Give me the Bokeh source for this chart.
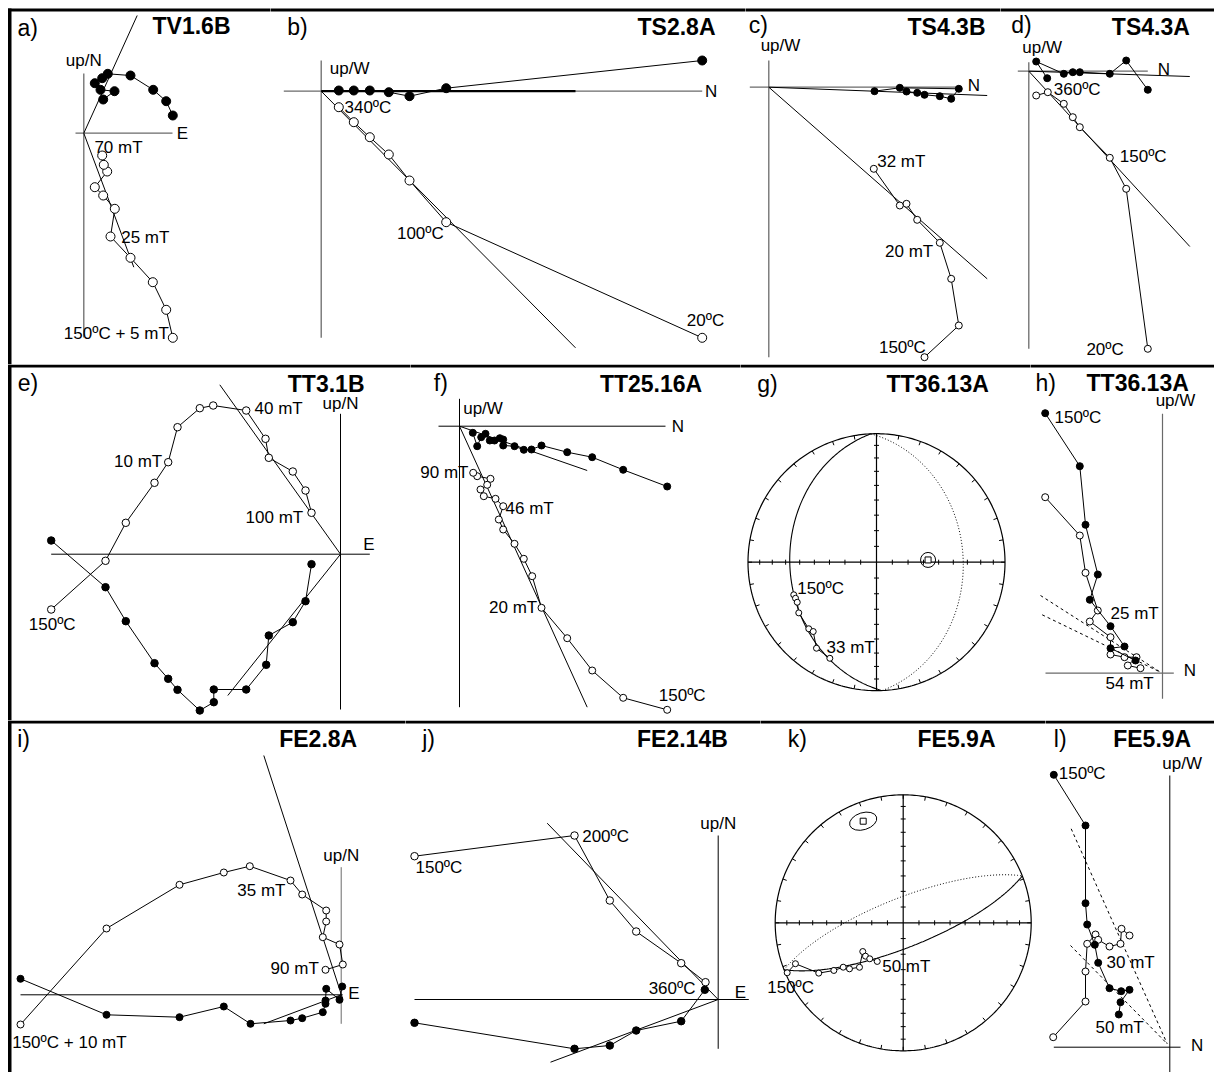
import numpy as np
from bokeh.plotting import figure
from bokeh.layouts import column, row
from bokeh.models import Range1d, BoxAnnotation
from bokeh.core.properties import value
from bokeh.embed import file_html
from bokeh.resources import INLINE

FONT = "Liberation Sans"
GRAY = "#6a6a6a"

# ---------------- data (component values, arbitrary units; x = horizontal axis, y = vertical axis) -------------
# a) TV1.6B
A_FILLED = [(89, 17.7), (82.4, 32), (69.4, 43.4), (46.7, 57.7), (24, 59.4), (18.4, 55), (11, 50),
            (16.7, 43.4), (30.7, 42), (19.4, 33.7)]
A_OPEN = [(89, -204.6), (82.4, -176.6), (69, -149), (46.7, -124.6), (26.7, -103.3), (31, -75.6),
          (19.4, -62.3), (11, -54), (23.4, -38.3), (20, -31.6), (18.4, -22.3)]
A_FIT_FILLED = [(0, 0), (53.4, 117.7)]
A_FIT_OPEN = [(0, 0), (50.0, -134.0)]

# b) TS2.8A
B_FILLED = [(381, 30.7), (125, 3), (88.3, -5), (67.6, -1), (48.6, 0.7), (32.6, 0.7), (17.6, 0.7)]
B_OPEN = [(381, -246.6), (125, -131), (88.3, -89.3), (67.6, -63.3), (48.6, -46), (32.6, -31), (17.6, -16)]
B_FIT_FILLED = [(0, 0), (254.3, 0)]
B_FIT_OPEN = [(0, 0), (254.3, -256.6)]

# c) TS4.3B
C_FILLED = [(105.7, -4), (131, -0.6), (190, -1.6), (182.4, -11.6), (171, -9), (155.7, -7.6),
            (148.4, -5.6), (137.7, -4.3)]
C_OPEN = [(155.7, -270), (190, -238.3), (182.4, -191.6), (171, -155.6), (148.4, -132.6),
          (137.7, -116.6), (131, -118.3), (105, -81.6)]
C_FIT_FILLED = [(0, 0), (218.4, -8.3)]
C_FIT_OPEN = [(0, 0), (218.4, -191.6)]

# d) TS4.3A
D_FILLED = [(119, -18.6), (97.4, 10.7), (81, -2.6), (51, -1), (44, -1), (35, -2.6), (7.4, 9.7), (18.4, -7)]
D_OPEN = [(119, -277.6), (97.4, -117.6), (81, -86.6), (51, -56), (44, -46), (35, -32.6), (19, -21), (7.4, -24.3)]
D_FIT_FILLED = [(0, 0), (161, -5.3)]
D_FIT_OPEN = [(0, 0), (161, -175.3)]

# e) TT3.1B
E_OPEN = [(-289.3, -55.3), (-235, -6.6), (-214.7, 31.4), (-186, 71.4), (-172.3, 92), (-163, 127),
          (-140.7, 146), (-127.3, 148.7), (-94.3, 143.7), (-75, 115.4), (-71.7, 96.4), (-47.7, 82.7),
          (-35, 63.7), (-29, 41.4)]
E_FILLED = [(-289.3, 13.7), (-235, -33), (-214.7, -67), (-186, -109), (-172.3, -124.6), (-163, -135.6),
            (-140.7, -156.3), (-126.7, -148), (-126.7, -135.3), (-94.3, -135.3), (-74.3, -110.6),
            (-71.7, -81.3), (-47.7, -68), (-35, -47), (-29, -10)]
E_FIT_OPEN = [(0, 0), (-120.7, 169.4)]
E_FIT_FILLED = [(0, 0), (-112.7, -141.3)]

# f) TT25.16A
F_FILLED = [(207.7, -60.3), (163.7, -43.6), (132.7, -31), (107.7, -26), (82, -19.3), (72, -23.3),
            (64.3, -23.6), (55, -20), (43.7, -19.3), (43.7, -13.3), (40.3, -12), (35, -14.3),
            (30.3, -14.3), (26, -7.6), (21.7, -11), (17.7, -20), (13.3, -6.6)]
F_OPEN = [(207.7, -283.6), (163.7, -271.6), (132.7, -244.3), (107.7, -212), (82, -181.6), (72.7, -150),
          (64.3, -132.6), (55, -117.6), (43.7, -103.3), (39.3, -93.3), (43.7, -80), (36, -72.6),
          (24.3, -70), (21, -63.3), (27.7, -58.6), (31, -52.6), (17.7, -50), (13.7, -46.6)]
F_FIT_FILLED = [(0, 0), (127.7, -44.3)]
F_FIT_OPEN = [(0, 0), (127.7, -281)]

# g) TT36.13A  (declination, inclination)
G_DIRS = [(248.5, 31.4), (246.0, 31.6), (243.2, 31.5), (236.9, 28.6), (225.5, 27.0), (222.4, 27.8),
          (214.9, 19.5), (205.9, 18.0)]
G_POLE = (87.5, 57.0)

# h) TT36.13A
H_FILLED = [(-117.3, 260), (-82.7, 207), (-77, 148.4), (-64.7, 98.7), (-72.7, 73.4), (-52, 47),
            (-38, 26.7), (-52, 25), (-27, 12.7)]
H_OPEN = [(-117.3, 176), (-82.7, 137.7), (-77, 100.4), (-64.7, 62.7), (-72.7, 51.7), (-52, 36),
          (-52, 18.7), (-38, 16), (-26, 16), (-34.7, 7.7), (-22, 5)]
H_FIT_1 = [(-122, 77.7), (-2, 1)]
H_FIT_2 = [(-120.3, 58.4), (-2, 1)]

# i) FE2.8A
I_OPEN = [(-320.7, -29.7), (-234.7, 66.3), (-161.7, 110), (-117.4, 122.3), (-91.4, 128.6),
          (-50.7, 114.3), (-39, 100.3), (-15, 84.3), (-15, 73.3), (-18.4, 57.6), (-1.7, 50.3),
          (1.6, 30.3), (-15.7, 25)]
I_FILLED = [(-320.7, 16), (-234.7, -20), (-161.7, -22.4), (-117.4, -11.7), (-90.7, -29), (-50.7, -25.7),
            (-39, -23.4), (-18.4, -17.4), (-15.7, -9), (-15.7, -5.7), (-15, 6), (-1.7, -5), (1, 8.3)]
I_FIT_OPEN = [(-77.4, 239.3), (1.5, -4)]
I_FIT_FILLED = [(-77.4, -29), (0, 0)]

# j) FE2.14B
J_OPEN = [(-303.7, 143.3), (-143.7, 164), (-108.4, 99), (-82, 68), (-37, 36.3), (-12.7, 17.3)]
J_FILLED = [(-303.7, -23.3), (-143.7, -49.3), (-108.4, -46), (-82, -31), (-37, -21.7), (-13.4, 9.7)]
J_FIT_OPEN = [(-171, 176.3), (0, 0)]
J_FIT_FILLED = [(-167.7, -62.7), (0, 0)]

# k) FE5.9A  (declination, inclination)
K_DIRS = [(246.7, 1.5), (249.2, 10.9), (239.2, 24.2), (235.5, 34.6), (233.5, 41.3), (229.4, 44.0),
          (224.5, 49.7), (234.6, 58.2), (228.5, 57.7), (222.9, 58.5), (213.9, 60.2)]
K_POLE = (338.5, 15.8)

# l) FE5.9A
L_FILLED = [(-116, 272.4), (-84.3, 221.7), (-84.3, 144), (-82.6, 122.7), (-75, 102.4), (-71.6, 84.4),
            (-60.3, 59), (-48.6, 56), (-40.3, 57.4), (-49.3, 45), (-51, 32.7)]
L_OPEN = [(-116.6, 10), (-84.3, 45.7), (-84.3, 75.7), (-82.6, 103.4), (-74.3, 112.7), (-71.6, 107.4),
          (-60.3, 100.7), (-49.3, 103.4), (-48.3, 118.4), (-40.3, 111.7)]
L_FIT_1 = [(-98.6, 218.4), (-2.6, 3.4)]
L_FIT_2 = [(-99.3, 101.7), (-2.6, 3.4)]


# ---------------- helpers ----------------
def panel(x0, x1, y0, y1, ox, oy, border_top, left_edge=False):
    p = figure(width=x1 - x0, height=y1 - y0, title=None,
               x_range=Range1d(x0 - ox, x1 - ox), y_range=Range1d(oy - y1, oy - y0),
               output_backend="svg", toolbar_location=None, min_border=0,
               x_axis_type=None, y_axis_type=None)
    p.outline_line_color = None
    p.background_fill_color = "white"
    p.border_fill_color = "white"
    bt = oy - border_top
    bl = (7.5 if left_edge else x0 - 5) - ox
    p.add_layout(BoxAnnotation(left=bl, right=x1 - ox + 5, top=bt, bottom=bt - 3,
                               fill_color="black", fill_alpha=1, line_alpha=0))
    if left_edge:
        p.add_layout(BoxAnnotation(left=7.5 - ox, right=11 - ox, top=bt, bottom=oy - y1 - 5,
                                   fill_color="black", fill_alpha=1, line_alpha=0))
    return p


def axes(p, xr, yr, color="black", width=1.0, ycolor=None):
    p.line([xr[0], xr[1]], [0, 0], line_color=color, line_width=width)
    p.line([0, 0], [yr[0], yr[1]], line_color=ycolor or color, line_width=width)


def fit(p, pts, width=1.0, dash="solid"):
    p.line([q[0] for q in pts], [q[1] for q in pts], line_color="black", line_width=width, line_dash=dash)


def series(p, pts, filled, size, path=True):
    xs = [q[0] for q in pts]
    ys = [q[1] for q in pts]
    if path:
        p.line(xs, ys, line_color="black", line_width=1)
    p.scatter(xs, ys, size=size, marker="circle", fill_color="black" if filled else "white",
              line_color="black", line_width=1)


def txt(p, x, y, s, align="left", size=17, bold=False):
    p.text(x=[x], y=[y], text=[s], text_align=align, text_baseline="middle",
           text_font=value(FONT), text_font_size=f"{size}px",
           text_font_style="bold" if bold else "normal", text_color="black")


def dir2cart(D, I):
    d, i = np.radians(D), np.radians(I)
    return np.array([np.cos(i) * np.cos(d), np.cos(i) * np.sin(d), np.sin(i)])


def eqarea(D, I, R):
    D = np.asarray(D, float)
    I = np.abs(np.asarray(I, float))
    r = R * np.sqrt(2) * np.sin(np.radians(90 - I) / 2)
    return r * np.sin(np.radians(D)), r * np.cos(np.radians(D))


def stereonet(p, R):
    th = np.linspace(0, 2 * np.pi, 361)
    p.line(R * np.cos(th), R * np.sin(th), line_color="black", line_width=1.2)
    p.segment(x0=[-R, 0], y0=[0, -R], x1=[R, 0], y1=[0, R], line_color="black", line_width=1.2)
    x0s, y0s, x1s, y1s = [], [], [], []
    tl = 2.5
    for inc in range(10, 90, 10):
        r = R * np.sqrt(2) * np.sin(np.radians(90 - inc) / 2)
        for s in (1, -1):
            x0s += [s * r, -tl]
            y0s += [-tl, s * r]
            x1s += [s * r, tl]
            y1s += [tl, s * r]
    for az in range(0, 360, 10):
        a = np.radians(az)
        x0s.append(R * np.sin(a))
        y0s.append(R * np.cos(a))
        x1s.append((R - 4) * np.sin(a))
        y1s.append((R - 4) * np.cos(a))
    p.segment(x0=x0s, y0=y0s, x1=x1s, y1=y1s, line_color="black", line_width=1)


def great_circle(p, pole, R):
    Dp, Ip = pole
    a = dir2cart(Dp + 90, 0)
    b = dir2cart(Dp + 180, 90 - Ip)
    for t0, t1, dash, w in ((0, np.pi, "solid", 1.1), (np.pi, 2 * np.pi, "1 2", 1.0)):
        t = np.linspace(t0, t1, 240)
        v = np.outer(np.cos(t), a) + np.outer(np.sin(t), b)
        D = np.degrees(np.arctan2(v[:, 1], v[:, 0]))
        I = np.degrees(np.arcsin(np.clip(v[:, 2], -1, 1)))
        x, y = eqarea(D, I, R)
        p.line(x, y, line_color="black", line_width=w, line_dash=dash)


# ---------------- row 1 ----------------
pa = panel(0, 270, 0, 364, 83.3, 132.7, 8, left_edge=True)
axes(pa, (-8.3, 88.7), (-204.3, 59.7), GRAY, 1.3)
fit(pa, A_FIT_FILLED)
fit(pa, A_FIT_OPEN)
series(pa, A_OPEN, False, 9)
series(pa, A_FILLED, True, 9)
txt(pa, -66.3, 105.7, "a)", "left", 23)
txt(pa, 146.7, 107.7, "TV1.6B", "right", 23, True)
txt(pa, 0, 72.7, "up/N", "center")
txt(pa, 98.7, 0, "E", "center")
txt(pa, 34.7, -14.3, "70 mT", "center")
txt(pa, 37.4, -104.3, "25 mT")
txt(pa, 85, -200.3, "150ºC + 5 mT", "right")

pb = panel(270, 745, 0, 364, 320.7, 90.7, 8)
axes(pb, (-37.4, 381), (-246.6, 30.7), GRAY, 1.3)
fit(pb, B_FIT_FILLED, width=2.2)
fit(pb, B_FIT_OPEN)
series(pb, B_OPEN, False, 9)
series(pb, B_FILLED, True, 9)
txt(pb, -34, 64, "b)", "left", 23)
txt(pb, 394.3, 64, "TS2.8A", "right", 23, True)
txt(pb, 8.6, 22.4, "up/W")
txt(pb, 390, 0, "N", "center")
txt(pb, 23.3, -16, "340ºC")
txt(pb, 122.6, -142.6, "100ºC", "right")
txt(pb, 384.3, -229.3, "20ºC", "center")

pc = panel(745, 1000, 0, 364, 768.3, 86.7, 8)
axes(pc, (-19, 188.4), (-270, 26.7), GRAY, 1.3)
fit(pc, C_FIT_FILLED)
fit(pc, C_FIT_OPEN)
series(pc, C_OPEN, False, 7)
series(pc, C_FILLED, True, 7)
txt(pc, -20, 62.7, "c)", "left", 23)
txt(pc, 216.7, 60, "TS4.3B", "right", 23, True)
txt(pc, 11.7, 41.7, "up/W", "center")
txt(pc, 205, 1.7, "N", "center")
txt(pc, 108.4, -74.3, "32 mT")
txt(pc, 164.4, -164, "20 mT", "right")
txt(pc, 157, -260, "150ºC", "right")

pd_ = panel(1000, 1214, 0, 364, 1028.3, 70.7, 8)
axes(pd_, (-11, 119), (-277.6, 9), GRAY, 1.3)
fit(pd_, D_FIT_FILLED)
fit(pd_, D_FIT_OPEN)
series(pd_, D_OPEN, False, 7)
series(pd_, D_FILLED, True, 7)
txt(pd_, -17.6, 46.7, "d)", "left", 23)
txt(pd_, 161, 44, "TS4.3A", "right", 23, True)
txt(pd_, 13.4, 24, "up/W", "center")
txt(pd_, 135, 1.7, "N", "center")
txt(pd_, 25, -18.6, "360ºC")
txt(pd_, 91, -85, "150ºC")
txt(pd_, 95, -278.6, "20ºC", "right")

# ---------------- row 2 ----------------
pe = panel(0, 410, 364, 720, 340, 553.7, 364, left_edge=True)
axes(pe, (-289.3, 29.3), (-155.3, 140.4), "black", 1.0)
fit(pe, E_FIT_OPEN)
fit(pe, E_FIT_FILLED)
series(pe, E_OPEN, False, 7.5)
series(pe, E_FILLED, True, 7.5)
txt(pe, -322.7, 171.4, "e)", "left", 23)
txt(pe, 24, 170.4, "TT3.1B", "right", 23, True)
txt(pe, 0, 150.4, "up/N", "center")
txt(pe, 28.3, 9.4, "E", "center")
txt(pe, -86, 145.4, "40 mT")
txt(pe, -178.3, 92.7, "10 mT", "right")
txt(pe, -37.3, 36.4, "100 mT", "right")
txt(pe, -311.7, -70.6, "150ºC")

pf = panel(410, 740, 364, 720, 459, 425.7, 364)
axes(pf, (-21, 206), (-281, 27.4), "black", 1.0)
fit(pf, F_FIT_FILLED)
fit(pf, F_FIT_OPEN)
series(pf, F_OPEN, False, 7)
series(pf, F_FILLED, True, 7)
txt(pf, -25.7, 43.4, "f)", "left", 23)
txt(pf, 242.7, 42.4, "TT25.16A", "right", 23, True)
txt(pf, 3.7, 18, "up/W")
txt(pf, 218.3, 0, "N", "center")
txt(pf, 9, -46, "90 mT", "right")
txt(pf, 46, -82.6, "46 mT")
txt(pf, 77.7, -181, "20 mT", "right")
txt(pf, 199.3, -269.3, "150ºC")

RG = 128.5
pg = panel(740, 1030, 364, 720, 876, 561.7, 364)
stereonet(pg, RG)
great_circle(pg, G_POLE, RG)
gx, gy = eqarea([d[0] for d in G_DIRS], [d[1] for d in G_DIRS], RG)
pg.line(gx, gy, line_color="black", line_width=1)
pg.scatter(gx, gy, size=6, marker="circle", fill_color="white", line_color="black", line_width=1)
px_, py_ = eqarea([G_POLE[0]], [G_POLE[1]], RG)
pg.scatter(px_, py_, size=15, marker="circle", fill_color=None, line_color="black", line_width=1)
pg.scatter(px_, py_, size=6, marker="square", fill_color="white", line_color="black", line_width=1)
txt(pg, -119.3, 178.4, "g)", "left", 23)
txt(pg, 112.3, 178.4, "TT36.13A", "right", 23, True)
txt(pg, -79.3, -26.6, "150ºC")
txt(pg, -50, -85, "33 mT")

ph = panel(1030, 1214, 364, 720, 1162, 672.7, 364)
axes(ph, (-117, 11.3), (-25.6, 259.4), GRAY, 1.2)
fit(ph, H_FIT_1, dash="3 3")
fit(ph, H_FIT_2, dash="3 3")
series(ph, H_OPEN, False, 7)
series(ph, H_FILLED, True, 7)
txt(ph, -127, 290.4, "h)", "left", 23)
txt(ph, 26.3, 290.4, "TT36.13A", "right", 23, True)
txt(ph, 13, 272.7, "up/W", "center")
txt(ph, 27.3, 2.7, "N", "center")
txt(ph, -108, 255.4, "150ºC")
txt(ph, -52, 59.4, "25 mT")
txt(ph, -57, -10, "54 mT")

# ---------------- row 3 ----------------
pi_ = panel(0, 405, 720, 1072, 340.7, 994.3, 720, left_edge=True)
axes(pi_, (-320.7, 1.5), (-29, 127.6), "black", 1.0, ycolor=GRAY)
fit(pi_, I_FIT_OPEN)
fit(pi_, I_FIT_FILLED)
series(pi_, I_OPEN, False, 7)
series(pi_, I_FILLED, True, 7)
txt(pi_, -324, 256, "i)", "left", 23)
txt(pi_, 16, 256, "FE2.8A", "right", 23, True)
txt(pi_, 0, 139.3, "up/N", "center")
txt(pi_, 12.6, 1, "E", "center")
txt(pi_, -55.7, 104.3, "35 mT", "right")
txt(pi_, -22.4, 26.6, "90 mT", "right")
txt(pi_, -329, -47.4, "150ºC + 10 mT")

pj = panel(405, 760, 720, 1072, 717.7, 999, 720)
axes(pj, (-303.7, 30.6), (-49.3, 164), "black", 1.0)
fit(pj, J_FIT_OPEN)
fit(pj, J_FIT_FILLED)
series(pj, J_OPEN, False, 7.5)
series(pj, J_FILLED, True, 7.5)
txt(pj, -296, 260.7, "j)", "left", 23)
txt(pj, 9.6, 260.7, "FE2.14B", "right", 23, True)
txt(pj, 0, 175.7, "up/N", "center")
txt(pj, 22.3, 7.3, "E", "center")
txt(pj, -136, 163, "200ºC")
txt(pj, -302.7, 132.3, "150ºC")
txt(pj, -22.7, 10.7, "360ºC", "right")

RK = 128.0
pk = panel(760, 1045, 720, 1072, 902.7, 922.3, 720)
stereonet(pk, RK)
great_circle(pk, K_POLE, RK)
kx, ky = eqarea([d[0] for d in K_DIRS], [d[1] for d in K_DIRS], RK)
pk.line(kx, ky, line_color="black", line_width=1)
pk.scatter(kx, ky, size=6, marker="circle", fill_color="white", line_color="black", line_width=1)
qx, qy = eqarea([K_POLE[0]], [K_POLE[1]], RK)
pk.ellipse(x=qx, y=qy, width=28, height=17, angle=0.3, fill_color=None, line_color="black", line_width=1)
pk.scatter(qx, qy, size=6, marker="square", fill_color="white", line_color="black", line_width=1)
txt(pk, -115.4, 184, "k)", "left", 23)
txt(pk, 92.3, 184, "FE5.9A", "right", 23, True)
txt(pk, -136, -65, "150ºC")
txt(pk, -21, -43.7, "50 mT")

pl = panel(1045, 1214, 720, 1072, 1169.3, 1046.7, 720)
axes(pl, (-116, 10.7), (-26.6, 271.7), "black", 1.0)
fit(pl, L_FIT_1, dash="3 3")
fit(pl, L_FIT_2, dash="3 3")
series(pl, L_OPEN, False, 7)
series(pl, L_FILLED, True, 7)
txt(pl, -116, 308.4, "l)", "left", 23)
txt(pl, 21.4, 308.4, "FE5.9A", "right", 23, True)
txt(pl, 12.4, 284, "up/W", "center")
txt(pl, 27.4, 1.7, "N", "center")
txt(pl, -111, 273.4, "150ºC")
txt(pl, -63.3, 85, "30 mT")
txt(pl, -74.3, 20, "50 mT")

layout = column(row(pa, pb, pc, pd_), row(pe, pf, pg, ph), row(pi_, pj, pk, pl))
open("out.html", "w").write(file_html(layout, INLINE))
